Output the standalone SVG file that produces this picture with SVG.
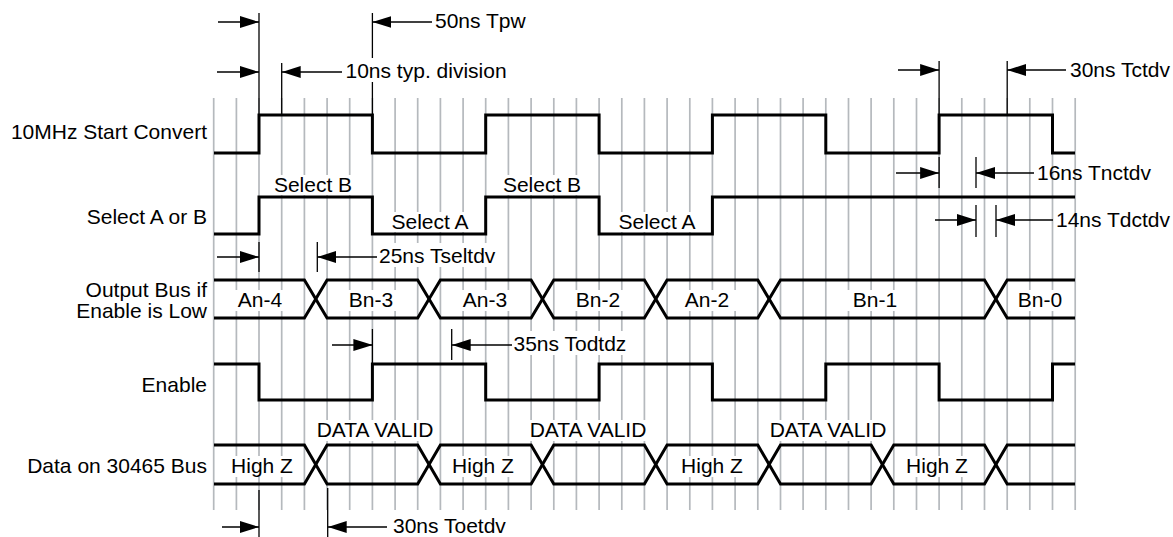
<svg xmlns="http://www.w3.org/2000/svg" width="1173" height="537" viewBox="0 0 1173 537">
<defs>
<style>
text{font-family:"Liberation Sans",Arial,sans-serif;font-size:21px;fill:#000}
.lbl{text-anchor:end}
.mid{text-anchor:middle}
.grid line{stroke:#b5b9bd;stroke-width:1.7}
.sig{fill:none;stroke:#000;stroke-width:3;stroke-linejoin:miter}
.dim{stroke:#000;stroke-width:1.3;fill:none}
.arr{stroke:#000;stroke-width:1.3;fill:none;marker-end:url(#ah)}
.bg{fill:#fff}
</style>
<marker id="ah" viewBox="0 0 19 12" refX="19" refY="6" markerWidth="19" markerHeight="12" markerUnits="userSpaceOnUse" orient="auto"><path d="M0,0 L19,6 L0,12 z" fill="#000"/></marker>
</defs>
<rect width="1173" height="537" fill="#fff"/>
<g id="grid" class="grid">
<line x1="213.7" y1="98" x2="213.7" y2="510"/><line x1="236.4" y1="98" x2="236.4" y2="510"/><line x1="259" y1="98" x2="259" y2="510"/><line x1="281.7" y1="98" x2="281.7" y2="510"/><line x1="304.4" y1="98" x2="304.4" y2="510"/><line x1="327.1" y1="98" x2="327.1" y2="510"/><line x1="349.7" y1="98" x2="349.7" y2="510"/><line x1="372.4" y1="98" x2="372.4" y2="510"/><line x1="395.1" y1="98" x2="395.1" y2="510"/><line x1="417.7" y1="98" x2="417.7" y2="510"/><line x1="440.4" y1="98" x2="440.4" y2="510"/><line x1="463.1" y1="98" x2="463.1" y2="510"/><line x1="485.7" y1="98" x2="485.7" y2="510"/><line x1="508.4" y1="98" x2="508.4" y2="510"/><line x1="531.1" y1="98" x2="531.1" y2="510"/><line x1="553.8" y1="98" x2="553.8" y2="510"/><line x1="576.4" y1="98" x2="576.4" y2="510"/><line x1="599.1" y1="98" x2="599.1" y2="510"/><line x1="621.8" y1="98" x2="621.8" y2="510"/><line x1="644.4" y1="98" x2="644.4" y2="510"/><line x1="667.1" y1="98" x2="667.1" y2="510"/><line x1="689.8" y1="98" x2="689.8" y2="510"/><line x1="712.4" y1="98" x2="712.4" y2="510"/><line x1="735.1" y1="98" x2="735.1" y2="510"/><line x1="757.8" y1="98" x2="757.8" y2="510"/><line x1="780.5" y1="98" x2="780.5" y2="510"/><line x1="803.1" y1="98" x2="803.1" y2="510"/><line x1="825.8" y1="98" x2="825.8" y2="510"/><line x1="848.5" y1="98" x2="848.5" y2="510"/><line x1="871.1" y1="98" x2="871.1" y2="510"/><line x1="893.8" y1="98" x2="893.8" y2="510"/><line x1="916.5" y1="98" x2="916.5" y2="510"/><line x1="939.1" y1="98" x2="939.1" y2="510"/><line x1="961.8" y1="98" x2="961.8" y2="510"/><line x1="984.5" y1="98" x2="984.5" y2="510"/><line x1="1007.2" y1="98" x2="1007.2" y2="510"/><line x1="1029.8" y1="98" x2="1029.8" y2="510"/><line x1="1052.5" y1="98" x2="1052.5" y2="510"/><line x1="1075.2" y1="98" x2="1075.2" y2="510"/>
</g>
<g id="connectors">
<line class="dim" x1="259" y1="13" x2="259" y2="115"/>
<line class="dim" x1="372.4" y1="13" x2="372.4" y2="115"/>
<line class="arr" x1="218" y1="22" x2="259" y2="22"/>
<line class="arr" x1="432" y1="22" x2="372.4" y2="22"/>
<line class="dim" x1="281.7" y1="63" x2="281.7" y2="115"/>
<line class="arr" x1="217" y1="72" x2="259" y2="72"/>
<line class="arr" x1="342" y1="72" x2="281.7" y2="72"/>
<line class="dim" x1="259" y1="242" x2="259" y2="272"/>
<line class="dim" x1="317.3" y1="242" x2="317.3" y2="272"/>
<line class="arr" x1="217" y1="257" x2="259" y2="257"/>
<line class="arr" x1="377" y1="257" x2="317.3" y2="257"/>
<line class="dim" x1="372.4" y1="329" x2="372.4" y2="364"/>
<line class="dim" x1="451.7" y1="329" x2="451.7" y2="360"/>
<line class="arr" x1="332" y1="345" x2="372.4" y2="345"/>
<line class="arr" x1="512" y1="345" x2="451.7" y2="345"/>
<line class="dim" x1="259" y1="490" x2="259" y2="537"/>
<line class="dim" x1="327.7" y1="488" x2="327.7" y2="537"/>
<line class="arr" x1="222" y1="527" x2="259" y2="527"/>
<line class="arr" x1="387" y1="527" x2="327.7" y2="527"/>
<line class="dim" x1="939.1" y1="61" x2="939.1" y2="115"/>
<line class="dim" x1="1007.2" y1="61" x2="1007.2" y2="115"/>
<line class="arr" x1="898" y1="70" x2="939.1" y2="70"/>
<line class="arr" x1="1066" y1="70" x2="1007.2" y2="70"/>
<line class="dim" x1="939.1" y1="157" x2="939.1" y2="188"/>
<line class="dim" x1="976" y1="157" x2="976" y2="188"/>
<line class="arr" x1="896" y1="173" x2="939.1" y2="173"/>
<line class="arr" x1="1034" y1="173" x2="976" y2="173"/>
<line class="dim" x1="976" y1="205" x2="976" y2="237"/>
<line class="dim" x1="996" y1="205" x2="996" y2="237"/>
<line class="arr" x1="935" y1="220" x2="976" y2="220"/>
<line class="arr" x1="1053" y1="220" x2="996" y2="220"/>
</g>
<g id="annotation-labels">
<rect class="bg" x="434" y="8" width="94" height="22"/><text x="435" y="28">50ns Tpw</text>
<rect class="bg" x="344" y="58" width="172" height="24"/><text x="345.5" y="78">10ns typ. division</text>
<rect class="bg" x="378" y="243" width="128" height="24"/><text x="379" y="263">25ns Tseltdv</text>
<rect class="bg" x="512" y="331" width="122" height="24"/><text x="513.5" y="351">35ns Todtdz</text>
<rect class="bg" x="392" y="513" width="124" height="24"/><text x="393" y="533">30ns Toetdv</text>
<text x="1070" y="77">30ns Tctdv</text>
<text x="1037" y="180">16ns Tnctdv</text>
<text x="1056" y="227">14ns Tdctdv</text>
</g>
<g id="row-labels">
<text class="lbl" x="207" y="139">10MHz Start Convert</text>
<text class="lbl" x="207" y="224">Select A or B</text>
<text class="lbl" x="207" y="297">Output Bus if</text>
<text class="lbl" x="207" y="318">Enable is Low</text>
<text class="lbl" x="207" y="392">Enable</text>
<text class="lbl" x="207" y="473">Data on 30465 Bus</text>
</g>
<g id="start-convert">
<path class="sig" d="M214,153 H259 V115 H372.4 V153 H485.7 V115 H599.1 V153 H712.4 V115 H825.8 V153 H939.1 V115 H1052.5 V153 H1075"/>
</g>
<g id="select">
<rect class="bg" x="271" y="175" width="84" height="20"/><text class="mid" x="313" y="192">Select B</text>
<rect class="bg" x="500" y="175" width="84" height="20"/><text class="mid" x="542" y="192">Select B</text>
<rect class="bg" x="388" y="212" width="84" height="20"/><text class="mid" x="430" y="229">Select A</text>
<rect class="bg" x="615" y="212" width="84" height="20"/><text class="mid" x="657" y="229">Select A</text>
<path class="sig" d="M214,234 H259 V197 H372.4 V234 H485.7 V197 H599.1 V234 H712.4 V197 H1075"/>
</g>
<g id="output-bus">
<rect class="bg" x="229" y="290" width="62" height="21"/><text class="mid" x="260" y="307">An-4</text>
<rect class="bg" x="340" y="290" width="62" height="21"/><text class="mid" x="371" y="307">Bn-3</text>
<rect class="bg" x="454" y="290" width="62" height="21"/><text class="mid" x="485" y="307">An-3</text>
<rect class="bg" x="567" y="290" width="62" height="21"/><text class="mid" x="598" y="307">Bn-2</text>
<rect class="bg" x="676" y="290" width="62" height="21"/><text class="mid" x="707" y="307">An-2</text>
<rect class="bg" x="844" y="290" width="62" height="21"/><text class="mid" x="875" y="307">Bn-1</text>
<rect class="bg" x="1009" y="290" width="62" height="21"/><text class="mid" x="1040" y="307">Bn-0</text>
<path class="sig" d="M214,280 H304.4 L327.1,318 H417.7 L440.4,280 H531.1 L553.8,318 H644.4 L667.1,280 H757.8 L780.5,318 H984.5 L1007.2,280 H1075"/>
<path class="sig" d="M214,318 H304.4 L327.1,280 H417.7 L440.4,318 H531.1 L553.8,280 H644.4 L667.1,318 H757.8 L780.5,280 H984.5 L1007.2,318 H1075"/>
</g>
<g id="enable">
<path class="sig" d="M214,364 H259 V400 H372.4 V364 H485.7 V400 H599.1 V364 H712.4 V400 H825.8 V364 H939.1 V400 H1052.5 V364 H1075"/>
</g>
<g id="data-bus">
<rect class="bg" x="224" y="456" width="76" height="21"/><text class="mid" x="262" y="473">High Z</text>
<rect class="bg" x="445" y="456" width="76" height="21"/><text class="mid" x="483" y="473">High Z</text>
<rect class="bg" x="674" y="456" width="76" height="21"/><text class="mid" x="712" y="473">High Z</text>
<rect class="bg" x="899" y="456" width="76" height="21"/><text class="mid" x="937" y="473">High Z</text>
<rect class="bg" x="311" y="420" width="128" height="21"/><text class="mid" x="375" y="437">DATA VALID</text>
<rect class="bg" x="524" y="420" width="128" height="21"/><text class="mid" x="588" y="437">DATA VALID</text>
<rect class="bg" x="764" y="420" width="128" height="21"/><text class="mid" x="828" y="437">DATA VALID</text>
<path class="sig" d="M214,445 H304.4 L327.1,484 H417.7 L440.4,445 H531.1 L553.8,484 H644.4 L667.1,445 H757.8 L780.5,484 H871.1 L893.8,445 H984.5 L1007.2,484 H1075"/>
<path class="sig" d="M214,484 H304.4 L327.1,445 H417.7 L440.4,484 H531.1 L553.8,445 H644.4 L667.1,484 H757.8 L780.5,445 H871.1 L893.8,484 H984.5 L1007.2,445 H1075"/>
</g>
</svg>
